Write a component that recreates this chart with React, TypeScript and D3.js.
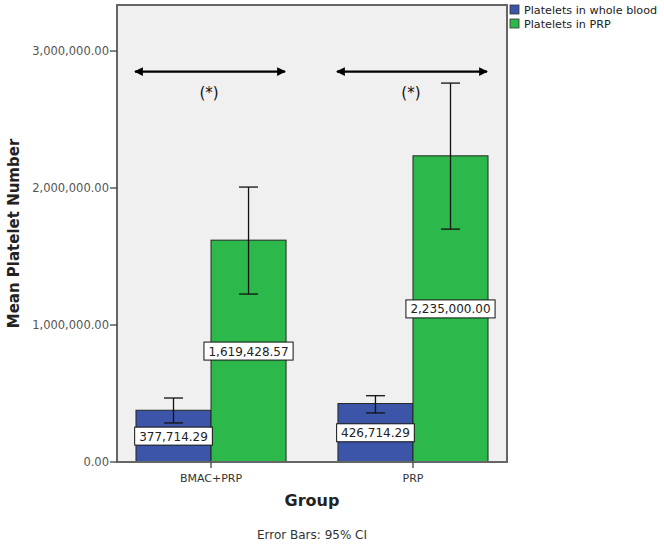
import React from 'react';
import * as d3 from 'd3';

const groups = ['BMAC+PRP', 'PRP'];
const series = ['Platelets in whole blood', 'Platelets in PRP'];
const seriesColors = ['#3c55a8', '#2db84b'];
// means per group, [whole blood, PRP]
const means = [
  [377714.29, 1619428.57],
  [426714.29, 2235000.0],
];
// 95% CI bounds [low, high]
const ciLow = [
  [285000, 1226000],
  [358000, 1700000],
];
const ciHigh = [
  [467000, 2007000],
  [484000, 2766000],
];
const yTicks = [0, 1000000, 2000000, 3000000];
const arrowLevel = 2850000;

const fmt = d3.format(',.2f');

const W = 664;
const H = 546;
const plot = { left: 117, right: 507, top: 5, bottom: 462 };
const font = 'DejaVu Sans, Verdana, sans-serif';

// rough text width for DejaVu Sans numbers
const numWidth = (s: string, fs: number) =>
  s.split('').reduce((w, c) => w + (c === ',' || c === '.' ? 0.318 : 0.636) * fs, 0);

export default function App() {
  const y = d3.scaleLinear().domain([0, 3336000]).range([plot.bottom, plot.top]);
  const x = d3
    .scaleBand<string>()
    .domain(groups)
    .range([plot.left, plot.right])
    .paddingInner(0.257)
    .paddingOuter(0.094);
  const xs = d3.scaleBand<number>().domain([0, 1]).range([0, x.bandwidth()]);
  const capW = 19;
  const labelFs = 12;

  return (
    <svg
      width={W}
      height={H}
      style={{ position: 'absolute', left: 0, top: 0, background: '#fff' }}
      fontFamily={font}
    >
      <defs>
        <marker id="ah" viewBox="0 0 10 10" refX="9" refY="5" markerWidth="4" markerHeight="4" orient="auto-start-reverse">
          <path d="M0,0 L10,5 L0,10 z" fill="#000" />
        </marker>
      </defs>

      {/* plot background */}
      <rect
        x={plot.left}
        y={plot.top}
        width={plot.right - plot.left}
        height={plot.bottom - plot.top}
        fill="#f0f0f0"
      />

      {/* bars */}
      {groups.map((g, gi) =>
        series.map((s, si) => {
          const x0 = (x(g) ?? 0) + (xs(si) ?? 0);
          const v = means[gi][si];
          return (
            <rect
              key={g + s}
              x={x0}
              y={y(v)}
              width={xs.bandwidth()}
              height={plot.bottom - y(v)}
              fill={seriesColors[si]}
              stroke="#1f2a1f"
              strokeWidth={1}
            />
          );
        })
      )}

      {/* error bars */}
      {groups.map((g, gi) =>
        series.map((s, si) => {
          const cx = (x(g) ?? 0) + (xs(si) ?? 0) + xs.bandwidth() / 2;
          const lo = y(ciLow[gi][si]);
          const hi = y(ciHigh[gi][si]);
          return (
            <g key={'e' + g + s} stroke="#111" strokeWidth={1.3}>
              <line x1={cx} x2={cx} y1={lo} y2={hi} />
              <line x1={cx - capW / 2} x2={cx + capW / 2} y1={lo} y2={lo} />
              <line x1={cx - capW / 2} x2={cx + capW / 2} y1={hi} y2={hi} />
            </g>
          );
        })
      )}

      {/* value labels */}
      {groups.map((g, gi) =>
        series.map((s, si) => {
          const cx = (x(g) ?? 0) + (xs(si) ?? 0) + xs.bandwidth() / 2;
          const v = means[gi][si];
          const cy = (y(v) + y(0)) / 2;
          const txt = fmt(v);
          const bw = numWidth(txt, labelFs) + 9;
          return (
            <g key={'l' + g + s}>
              <rect x={cx - bw / 2} y={cy - 9} width={bw} height={18} fill="#fff" stroke="#111" strokeWidth={1} />
              <text x={cx} y={cy + 4.5} textAnchor="middle" fontSize={labelFs} fill="#222">
                {txt}
              </text>
            </g>
          );
        })
      )}

      {/* significance arrows */}
      {groups.map((g) => {
        const x0 = x(g) ?? 0;
        const ya = y(arrowLevel);
        return (
          <g key={'a' + g}>
            <line
              x1={x0 - 1}
              x2={x0 + x.bandwidth() - 1}
              y1={ya}
              y2={ya}
              stroke="#000"
              strokeWidth={2.2}
              markerStart="url(#ah)"
              markerEnd="url(#ah)"
            />
            <text x={x0 + x.bandwidth() / 2 - 2} y={ya + 26} textAnchor="middle" fontSize={15} fill="#111">
              (*)
            </text>
          </g>
        );
      })}

      {/* frame */}
      <rect
        x={plot.left}
        y={plot.top}
        width={plot.right - plot.left}
        height={plot.bottom - plot.top}
        fill="none"
        stroke="#666"
        strokeWidth={2}
      />

      {/* y axis */}
      {yTicks.map((t) => (
        <g key={'y' + t}>
          <line x1={plot.left - 7} x2={plot.left} y1={y(t)} y2={y(t)} stroke="#444" strokeWidth={1.3} />
          <text x={plot.left - 8} y={y(t) + 4} textAnchor="end" fontSize={11.5} fill="#555">
            {fmt(t)}
          </text>
        </g>
      ))}
      <text
        transform={`translate(19,${(plot.top + plot.bottom) / 2}) rotate(-90)`}
        textAnchor="middle"
        fontSize={15}
        fontWeight="bold"
        fill="#222"
      >
        Mean Platelet Number
      </text>

      {/* x axis */}
      {groups.map((g) => {
        const cx = (x(g) ?? 0) + x.bandwidth() / 2;
        return (
          <g key={'x' + g}>
            <line x1={cx} x2={cx} y1={plot.bottom} y2={plot.bottom + 6} stroke="#444" strokeWidth={1.3} />
            <text x={cx} y={plot.bottom + 20} textAnchor="middle" fontSize={11} fill="#333">
              {g}
            </text>
          </g>
        );
      })}
      <text x={312} y={506} textAnchor="middle" fontSize={16} fontWeight="bold" fill="#222">
        Group
      </text>
      <text x={312} y={539} textAnchor="middle" fontSize={12} fill="#333">
        Error Bars: 95% CI
      </text>

      {/* legend */}
      {series.map((s, si) => (
        <g key={'lg' + s} transform={`translate(510,${5 + si * 14})`}>
          <rect x={0} y={0} width={9} height={9} fill={seriesColors[si]} stroke="#333" strokeWidth={0.8} />
          <text x={14} y={9} fontSize={11.2} fill="#222">
            {s}
          </text>
        </g>
      ))}
    </svg>
  );
}
